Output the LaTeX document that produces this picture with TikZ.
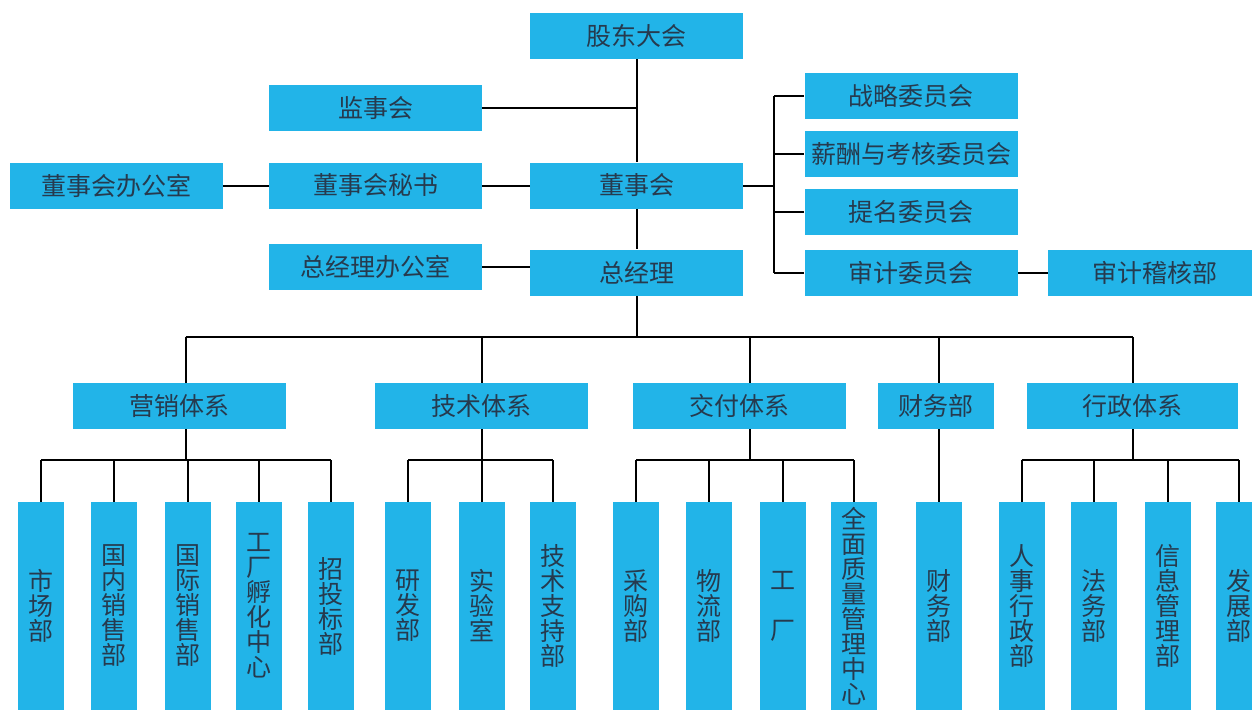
\documentclass[tikz,border=0pt]{standalone}
\usepackage{fontspec}
\newfontfamily\cjk{Noto Sans CJK SC}
\definecolor{boxcyan}{RGB}{34,180,232}
\definecolor{boxtext}{RGB}{38,58,78}
\begin{document}
\begin{tikzpicture}
[x=0.5pt,y=-0.5pt,
  boxdecorate/.style={shape=rectangle,fill=boxcyan,text=boxtext,inner sep=0pt,
    minimum width=106.5pt,minimum height=23pt,
    font=\cjk\fontsize{12.5}{12.5}\selectfont},%
  tallbox/.style={boxdecorate,minimum width=23pt,minimum height=104pt,align=center},%
  linedecorate/.style={-,line width=1pt,black}]
\useasboundingbox (0,0) rectangle (1252,713);
%% upper nodes
\foreach \nodename/\x/\y/\txt in {gd/636.5/36/股东大会, jsh/375.5/108/监事会,
  dshbgs/116/185.5/董事会办公室, dshms/375.5/185.5/董事会秘书, dsh/636.5/185.5/董事会,
  zjlbgs/375.5/267/总经理办公室, zjl/636.5/272.5/总经理,
  zl/911/95.5/战略委员会, xc/911/154/薪酬与考核委员会, tm/911/212/提名委员会,
  sj/911/272.5/审计委员会, sjjh/1154.5/272.5/审计稽核部} {
  \node (\nodename) at (\x,\y) [boxdecorate] {\txt};
}
%% systems
\foreach \nodename/\x/\w/\txt in {yx/179.5/213/营销体系, js/481.5/213/技术体系,
  jf/739.5/213/交付体系, cw/936/116/财务部, xz/1132.5/211/行政体系} {
  \node (\nodename) at (\x,406) [boxdecorate,minimum width=\w*0.5pt] {\txt};
}
%% departments
\foreach \nodename/\x/\txt in {scb/41/市\\场\\部, gn/114/国\\内\\销\\售\\部,
  gj/188/国\\际\\销\\售\\部, fh/259/工\\厂\\孵\\化\\中\\心, ztb/330.5/招\\投\\标\\部,
  yf/408/研\\发\\部, sys/482/实\\验\\室, jszc/553/技\\术\\支\\持\\部,
  cg/636/采\\购\\部, wl/709/物\\流\\部, gc/783/工\\\\厂,
  zl2/854/全\\面\\质\\量\\管\\理\\中\\心, cwb/939/财\\务\\部,
  rs/1021.5/人\\事\\行\\政\\部, fw/1094/法\\务\\部, xx/1168/信\\息\\管\\理\\部,
  fz/1239/发\\展\\部} {
  \node (\nodename) at (\x,606) [tallbox] {\txt};
}
%% upper lines
\coordinate (brk) at (774,185.5);
\coordinate (bus) at (638,337);
\coordinate (sub) at (0,460);
\draw[linedecorate] (gd) -- (dsh) (dsh) -- (zjl);
\draw[linedecorate] (jsh.east) -- (jsh.east -| gd.south);
\draw[linedecorate] (dshbgs) -- (dshms) (dshms) -- (dsh);
\draw[linedecorate] (zjlbgs.east) -- (zjlbgs.east -| zjl.west);
\draw[linedecorate] (dsh.east) -- (brk);
\draw[linedecorate] (zl.west -| brk) -- (sj.west -| brk);
\foreach \c in {zl, xc, tm, sj} {
  \draw[linedecorate] (\c.west) -- (\c.west -| brk);
}
\draw[linedecorate] (sj) -- (sjjh);
%% lower lines
\draw[linedecorate] (zjl.south) -- (zjl.south |- bus);
\draw[linedecorate] ([xshift=3pt]yx.north |- bus) -- (xz.north |- bus);
\foreach \s/\dx in {yx/3pt, js/0pt, jf/5pt, xz/0pt} {
  \draw[linedecorate] ([xshift=\dx]\s.north) -- ([xshift=\dx]\s.north |- bus);
  \draw[linedecorate] ([xshift=\dx]\s.south) -- ([xshift=\dx]\s.south |- sub);
}
\draw[linedecorate] (cwb.north |- bus) -- (cwb.north |- cw.north);
\draw[linedecorate] (cwb.north |- cw.south) -- (cwb.north);
\foreach \first/\last in {scb/ztb, yf/jszc, cg/zl2, rs/fz} {
  \draw[linedecorate] (\first.north |- sub) -- (\last.north |- sub);
}
\foreach \d in {scb, gn, gj, fh, ztb, yf, sys, jszc, cg, wl, gc, zl2, rs, fw, xx, fz} {
  \draw[linedecorate] (\d.north) -- (\d.north |- sub);
}
\end{tikzpicture}
\end{document}
